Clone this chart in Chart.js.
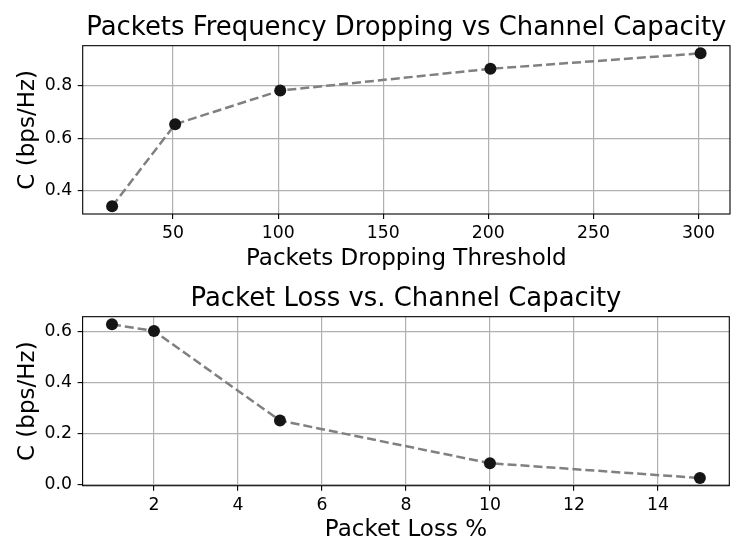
<!DOCTYPE html>
<html>
<head>
<meta charset="utf-8">
<script src="https://cdn.jsdelivr.net/npm/chart.js@4"></script>
<style>
  html, body { margin: 0; padding: 0; background: #ffffff; }
  #wrap { position: relative; width: 747px; height: 560px; background: #ffffff; }
  canvas { position: absolute; left: 0; }
  #c1 { top: 0; }
  #c2 { top: 280px; }
</style>
</head>
<body>
<div id="wrap">
  <canvas id="c1" width="747" height="280"></canvas>
  <canvas id="c2" width="747" height="280"></canvas>
</div>
<script>
// ---- data ----
const thresholds = [21, 51, 101, 201, 301];
const capacityByThreshold = [0.341, 0.654, 0.782, 0.865, 0.924];
const thresholdTicks = [50, 100, 150, 200, 250, 300];
const capacityTicksTop = [0.4, 0.6, 0.8];

const lossPercent = [1, 2, 5, 10, 15];
const capacityByLoss = [0.629, 0.603, 0.252, 0.085, 0.027];
const lossTicks = [2, 4, 6, 8, 10, 12, 14];
const capacityTicksBottom = [0.0, 0.2, 0.4, 0.6];

const FONT = "'DejaVu Sans', sans-serif";
const TICK_SIZE = 17.3, LABEL_SIZE = 23, TITLE_SIZE = 25.9;

function margins(arr) {
  const lo = Math.min(...arr), hi = Math.max(...arr);
  const m = (hi - lo) * 0.05;
  return { min: lo - m, max: hi + m };
}

const framePlugin = {
  id: 'frame',
  afterDraw(chart) {
    const a = chart.chartArea, ctx = chart.ctx;
    ctx.save();
    ctx.strokeStyle = '#000000';
    ctx.lineWidth = 1.1;
    ctx.strokeRect(a.left, a.top, a.right - a.left, a.bottom - a.top);
    ctx.restore();
  }
};

function makeChart(canvasId, cfg) {
  const xr = margins(cfg.xs), yr = margins(cfg.ys);
  return new Chart(document.getElementById(canvasId), {
    type: 'scatter',
    data: {
      datasets: [{
        data: cfg.xs.map((x, i) => ({ x: x, y: cfg.ys[i] })),
        showLine: true,
        borderColor: '#808080',
        borderWidth: 2.5,
        borderDash: [9, 4],
        pointRadius: 6,
        pointHoverRadius: 6,
        pointBackgroundColor: '#151515',
        pointBorderColor: '#151515',
        pointBorderWidth: 0,
        tension: 0
      }]
    },
    options: {
      responsive: false,
      animation: false,
      events: [],
      layout: { padding: { left: 0, right: cfg.padRight, top: 0, bottom: 0 } },
      plugins: {
        legend: { display: false },
        tooltip: { enabled: false },
        title: {
          display: true,
          text: cfg.title,
          fullSize: false,
          color: '#000000',
          font: { family: FONT, size: TITLE_SIZE, weight: 'normal', lineHeight: 1.2 },
          padding: { top: cfg.titleTop, bottom: cfg.titleBottom }
        }
      },
      scales: {
        x: {
          type: 'linear',
          position: 'bottom',
          min: xr.min,
          max: xr.max,
          afterBuildTicks: s => { s.ticks = cfg.xTicks.map(v => ({ value: v })); },
          afterFit: s => { s.height = cfg.xAxisHeight; },
          border: { display: false },
          grid: { color: '#b0b0b0', lineWidth: 1.2, tickColor: '#000000', tickLength: 5, tickWidth: 1.1 },
          ticks: {
            color: '#000000',
            padding: 4.5,
            maxRotation: 0,
            autoSkip: false,
            font: { family: FONT, size: TICK_SIZE },
            callback: v => String(v)
          },
          title: {
            display: true,
            text: cfg.xTitle,
            color: '#000000',
            font: { family: FONT, size: LABEL_SIZE, lineHeight: 1.2 },
            padding: { top: 0, bottom: cfg.xTitleBottom }
          }
        },
        y: {
          type: 'linear',
          position: 'left',
          min: yr.min,
          max: yr.max,
          afterBuildTicks: s => { s.ticks = cfg.yTicks.map(v => ({ value: v })); },
          afterFit: s => { s.width = cfg.yAxisWidth; },
          border: { display: false },
          grid: { color: '#b0b0b0', lineWidth: 1.2, tickColor: '#000000', tickLength: 5, tickWidth: 1.1 },
          ticks: {
            color: '#000000',
            padding: 5.5,
            autoSkip: false,
            font: { family: FONT, size: TICK_SIZE },
            callback: v => Number(v).toFixed(1)
          },
          title: {
            display: true,
            text: 'C (bps/Hz)',
            color: '#000000',
            font: { family: FONT, size: LABEL_SIZE, lineHeight: 1.2 },
            padding: { top: cfg.yTitleTop, bottom: 0 }
          }
        }
      }
    },
    plugins: [framePlugin]
  });
}

makeChart('c1', {
  xs: thresholds, ys: capacityByThreshold,
  xTicks: thresholdTicks, yTicks: capacityTicksTop,
  title: 'Packets Frequency Dropping vs Channel Capacity',
  xTitle: 'Packets Dropping Threshold',
  padRight: 17, titleTop: 12.8, titleBottom: 1.8,
  xAxisHeight: 66, yAxisWidth: 82.7, xTitleBottom: 7.3, yTitleTop: 14.6
});

makeChart('c2', {
  xs: lossPercent, ys: capacityByLoss,
  xTicks: lossTicks, yTicks: capacityTicksBottom,
  title: 'Packet Loss vs. Channel Capacity',
  xTitle: 'Packet Loss %',
  padRight: 17.7, titleTop: 3.5, titleBottom: 2.1,
  xAxisHeight: 74.3, yAxisWidth: 82.6, xTitleBottom: 16.3, yTitleTop: 14.2
});
</script>
</body>
</html>
